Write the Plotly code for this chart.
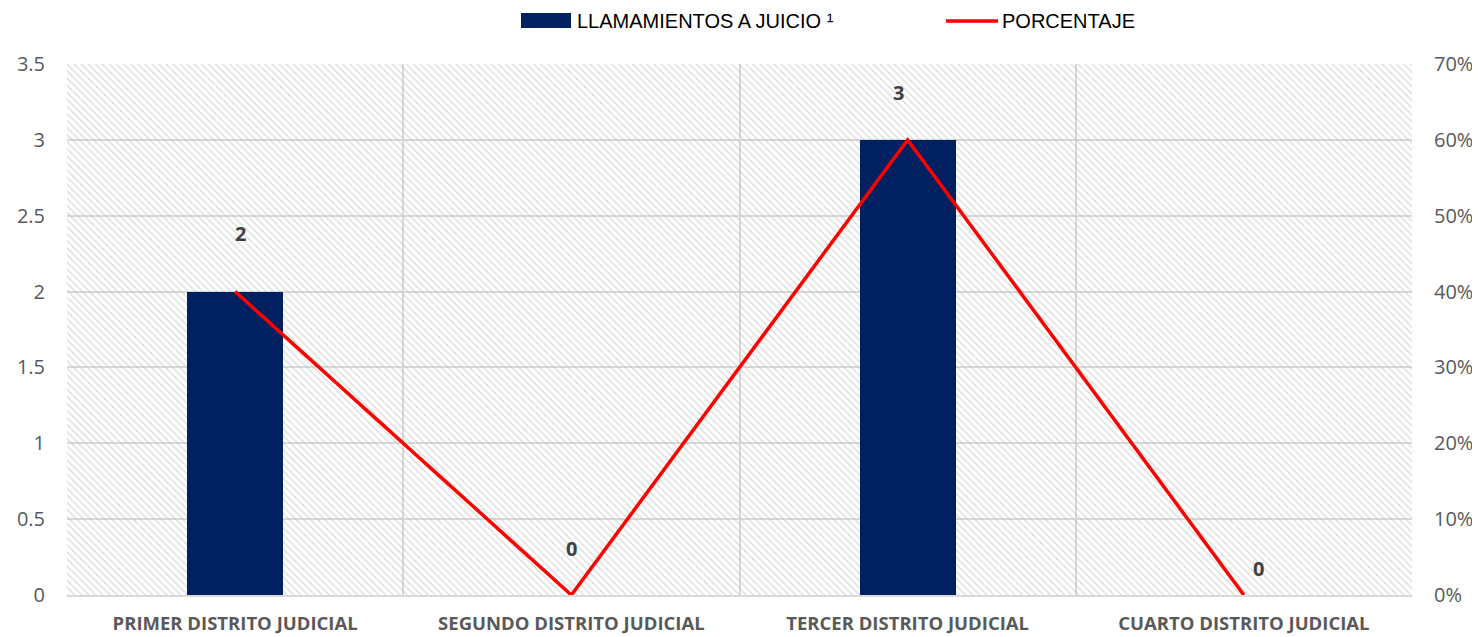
import plotly.graph_objects as go

categories = ["PRIMER DISTRITO JUDICIAL", "SEGUNDO DISTRITO JUDICIAL",
              "TERCER DISTRITO JUDICIAL", "CUARTO DISTRITO JUDICIAL"]
llamamientos = [2, 0, 3, 0]
porcentaje = [0.40, 0.0, 0.60, 0.0]
series_names = ["LLAMAMIENTOS A JUICIO ¹", "PORCENTAJE"]
y_left_max = 3.5
y_right_max = 0.7
label_yshift = [58, 47, 47, 27]
label_xshift = [5, 0, -9, 15]

# page body has an 8px margin; place the plot area at 67..1412 x 64..595 in page pixels
OFF = 8
W, H = 1480 - 2 * OFF, 637 - OFF
ML, MR, MT, MB = 67 - OFF, W + OFF - 1412, 64 - OFF, H + OFF - 595
PW, PH = W - ML - MR, H - MT - MB

def px(x):
    return (x - OFF - ML) / PW

def py(y):
    return (H - MB - (y - OFF)) / PH

GRID = "#D9D9D9"
TXT = "#595959"
BAR = "#002060"
RED = "#FF0000"
FONT = "Open Sans"

fig = go.Figure()

# hatched plot-area background
fig.add_trace(go.Bar(
    x=categories, y=[y_left_max] * len(categories), width=1,
    marker=dict(color="rgba(0,0,0,0)", line=dict(width=0),
                pattern=dict(shape="\\", fgcolor="#C0C0C0", bgcolor="rgba(0,0,0,0)",
                             size=5, solidity=0.3, fillmode="overlay")),
    showlegend=False, hoverinfo="skip"))

fig.add_trace(go.Bar(
    x=categories, y=llamamientos, name=series_names[0],
    marker=dict(color=BAR, line=dict(width=0)), width=0.286, showlegend=False))

fig.add_trace(go.Scatter(
    x=categories, y=porcentaje, name=series_names[1], yaxis="y2",
    mode="lines", line=dict(color=RED, width=3.5), showlegend=False))

for i, (c, v) in enumerate(zip(categories, llamamientos)):
    fig.add_annotation(x=c, y=v, text=f"<b>{v}</b>", showarrow=False,
                       yshift=label_yshift[i], xshift=label_xshift[i],
                       font=dict(family=FONT, size=20, color="#404040"))

# manual legend (Excel-style wide swatches)
fig.add_shape(type="rect", xref="paper", yref="paper",
              x0=px(521), x1=px(571), y0=py(28), y1=py(13),
              fillcolor=BAR, line=dict(width=0))
fig.add_shape(type="line", xref="paper", yref="paper",
              x0=px(946), x1=px(998), y0=py(21), y1=py(21),
              line=dict(color=RED, width=3.5))
fig.add_annotation(xref="paper", yref="paper", x=px(575), y=py(21),
                   xanchor="left", yanchor="middle", showarrow=False,
                   text=series_names[0],
                   font=dict(family="Liberation Sans", size=20, color="black"))
fig.add_annotation(xref="paper", yref="paper", x=px(1000), y=py(21),
                   xanchor="left", yanchor="middle", showarrow=False,
                   text=series_names[1],
                   font=dict(family="Liberation Sans", size=20, color="black"))

fig.update_layout(
    width=W, height=H,
    margin=dict(l=ML, r=MR, t=MT, b=MB, autoexpand=False),
    paper_bgcolor="white", plot_bgcolor="white",
    barmode="overlay", bargap=0,
    font=dict(family=FONT, color=TXT),
    showlegend=False,
    xaxis=dict(type="category", tickson="boundaries", showgrid=True, gridcolor=GRID,
               gridwidth=1.5, ticks="", showline=True, linecolor=GRID, linewidth=1.5,
               tickvals=categories, ticktext=[f"<b>{c}</b>" for c in categories],
               tickfont=dict(family=FONT, size=18.5, color=TXT), automargin=False,
               ticklabelstandoff=11, range=[-0.5, 3.5]),
    yaxis=dict(range=[0, y_left_max], dtick=0.5, showgrid=True, gridcolor=GRID,
               gridwidth=1.5, zeroline=False, ticks="", automargin=False,
               tickfont=dict(family=FONT, size=20, color=TXT), ticklabelstandoff=21),
    yaxis2=dict(range=[0, y_right_max], dtick=0.1, tickformat=".0%", overlaying="y",
                side="right", showgrid=False, zeroline=False, ticks="", automargin=False,
                tickfont=dict(family=FONT, size=20, color=TXT), ticklabelstandoff=21),
)

fig.write_html("out.html")
